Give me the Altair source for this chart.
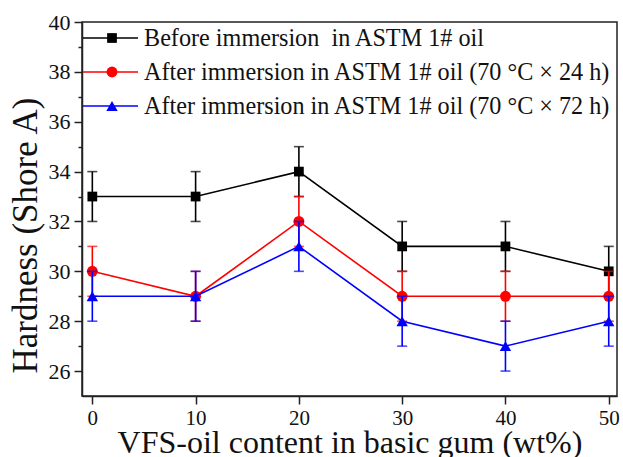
import altair as alt
import pandas as pd

# VFS-oil content in the basic gum (wt%)
content = [0, 10, 20, 30, 40, 50]

# Shore A hardness for each condition
before = [33, 33, 34, 31, 31, 30]
after_24h = [30, 29, 32, 29, 29, 29]
after_72h = [29, 29, 31, 28, 27, 28]

# Standard deviations (error bars)
err_before = [1, 1, 1, 1, 1, 1]
err_24h = [1, 1, 1, 1, 1, 1]
err_72h = [1, 1, 1, 1, 1, 1]

series_labels = [
    "Before immersion\u00a0 in ASTM 1# oil",
    "After immersion in ASTM 1# oil (70 \u00b0C \u00d7 24 h)",
    "After immersion in ASTM 1# oil (70 \u00b0C \u00d7 72 h)",
]
series_values = [before, after_24h, after_72h]
series_errors = [err_before, err_24h, err_72h]
colors = ["#000000", "#ff0000", "#0000ff"]
shapes = ["square", "circle", "triangle-up"]
marker_sizes = [95, 120, 130]

FONT = "Liberation Serif"

rows = []
for label, vals, errs in zip(series_labels, series_values, series_errors):
    for c, v, e in zip(content, vals, errs):
        rows.append({"series": label, "content": c, "hardness": v,
                     "lo": v - e, "hi": v + e})
df = pd.DataFrame(rows)

x_scale = alt.Scale(domain=[-1, 50.8], nice=False, zero=False)
y_scale = alt.Scale(domain=[25, 40], nice=False, zero=False)

x_axis = alt.Axis(
    values=content, title="VFS-oil content in basic gum (wt%)",
    grid=False, tickSize=8, tickWidth=1.5, tickColor="#222",
    domainColor="#222", domainWidth=1.5,
    labelFont=FONT, labelFontSize=21, labelColor="#111", labelPadding=3,
    titleFont=FONT, titleFontSize=32, titleFontWeight="normal",
    titleColor="#111", titleBaseline="alphabetic", titleY=56,
)
y_axis = alt.Axis(
    values=list(range(26, 41)), title="Hardness (Shore A)",
    labelExpr="datum.value % 2 === 0 ? datum.label : ''",
    grid=False,
    tickSize={"condition": {"test": "datum.value % 2 === 0", "value": 8},
              "value": 4},
    tickWidth=1.5, tickColor="#222",
    domainColor="#222", domainWidth=1.5,
    labelFont=FONT, labelFontSize=22, labelColor="#111", labelPadding=4,
    titleFont=FONT, titleFontSize=35, titleFontWeight="normal",
    titleColor="#111", titleAngle=-90, titleAlign="center",
    titleBaseline="alphabetic", titleX=-46, titleY=213,
)

X = alt.X("content:Q", scale=x_scale, axis=x_axis)


def Y(field):
    return alt.Y(f"{field}:Q", scale=y_scale, axis=y_axis)


layers = []
for label, color, shape, msize in zip(series_labels, colors, shapes, marker_sizes):
    base = alt.Chart(df).transform_filter(alt.datum.series == label)

    line = base.mark_line(color=color, strokeWidth=1.6).encode(x=X, y=Y("hardness"))
    bars = base.mark_rule(color=color, strokeWidth=1.6).encode(
        x=X, y=Y("lo"), y2="hi:Q")
    cap_lo = base.mark_tick(color=color, orient="horizontal", size=10,
                            thickness=1.6).encode(x=X, y=Y("lo"))
    cap_hi = base.mark_tick(color=color, orient="horizontal", size=10,
                            thickness=1.6).encode(x=X, y=Y("hi"))
    pts = base.mark_point(color=color, shape=shape, size=msize, filled=True,
                          opacity=1).encode(x=X, y=Y("hardness"))
    layers += [line, bars, cap_lo, cap_hi, pts]

# Legend drawn in the upper part of the plot area
legend_layers = []
for i, (label, color, shape, msize) in enumerate(
        zip(series_labels, colors, shapes, marker_sizes)):
    ly = 16 + 34 * i
    ldf = pd.DataFrame({"label": [label]})
    lbase = alt.Chart(ldf)
    legend_layers.append(
        lbase.mark_rule(color=color, strokeWidth=1.6).encode(
            x=alt.value(1), x2=alt.value(56), y=alt.value(ly)))
    legend_layers.append(
        lbase.mark_point(color=color, shape=shape, size=msize, filled=True,
                         opacity=1).encode(x=alt.value(30), y=alt.value(ly)))
    legend_layers.append(
        lbase.mark_text(align="left", baseline="middle", font=FONT,
                        fontSize=24.2, color="#111").encode(
            x=alt.value(62), y=alt.value(ly + 1), text="label:N"))

chart = alt.layer(*layers, *legend_layers).properties(
    width=535, height=374,
    padding={"left": 82, "top": 22, "right": 6, "bottom": 61},
    autosize="none",
    background="white",
).configure_view(stroke="#222", strokeWidth=1.5)

chart.save("out.html", embed_options={"renderer": "svg", "actions": False})
